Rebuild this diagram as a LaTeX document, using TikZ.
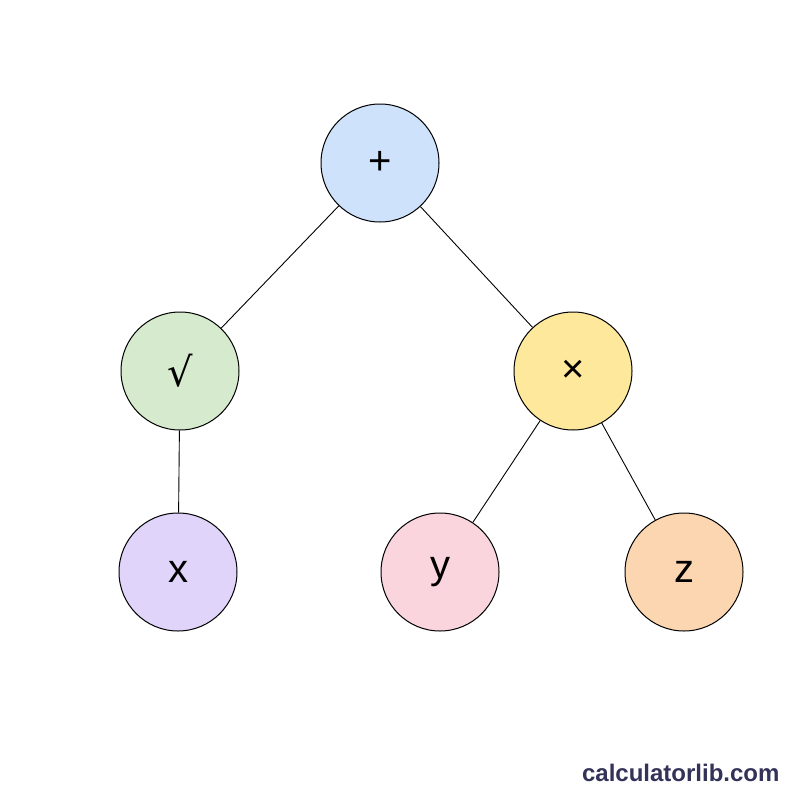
\documentclass[tikz,border=0pt]{standalone}
\usepackage{fontspec}
\setmainfont{Liberation Sans}
\newfontfamily\dejavu{DejaVu Sans}
\begin{document}
\begin{tikzpicture}[x=1pt,y=-1pt,
  nd/.style={circle,draw=black,line width=1pt,minimum size=118pt,inner sep=0pt,font=\fontsize{40}{40}\selectfont},
  edge/.style={line width=0.9pt}]
\useasboundingbox[fill=white] (0,0) rectangle (800,800);
\definecolor{cb}{HTML}{CFE2FB}\definecolor{cg}{HTML}{D6EBCD}\definecolor{cy}{HTML}{FDE89B}
\definecolor{cp}{HTML}{E0D4FB}\definecolor{ck}{HTML}{FBD5DD}\definecolor{co}{HTML}{FCD6B0}
\node[nd,fill=cb] (plus) at (380,163) {+};
\node[nd,fill=cg] (sq) at (180,371) {\dejavu √};
\node[nd,fill=cy] (mul) at (573,371) {×};
\node[nd,fill=cp] (x) at (178,572) {x};
\node[nd,fill=ck] (y) at (440,572) {y};
\node[nd,fill=co] (z) at (684,572) {z};
\draw[edge] (plus) -- (sq);
\draw[edge] (plus) -- (mul);
\draw[edge] (sq) -- (x);
\draw[edge] (mul) -- (y);
\draw[edge] (mul) -- (z);
\node[anchor=east,font=\bfseries\fontsize{24}{24}\selectfont,text=black!75!blue!60!gray] (wm) at (783,773) {calculatorlib.com};
\end{tikzpicture}
\end{document}
